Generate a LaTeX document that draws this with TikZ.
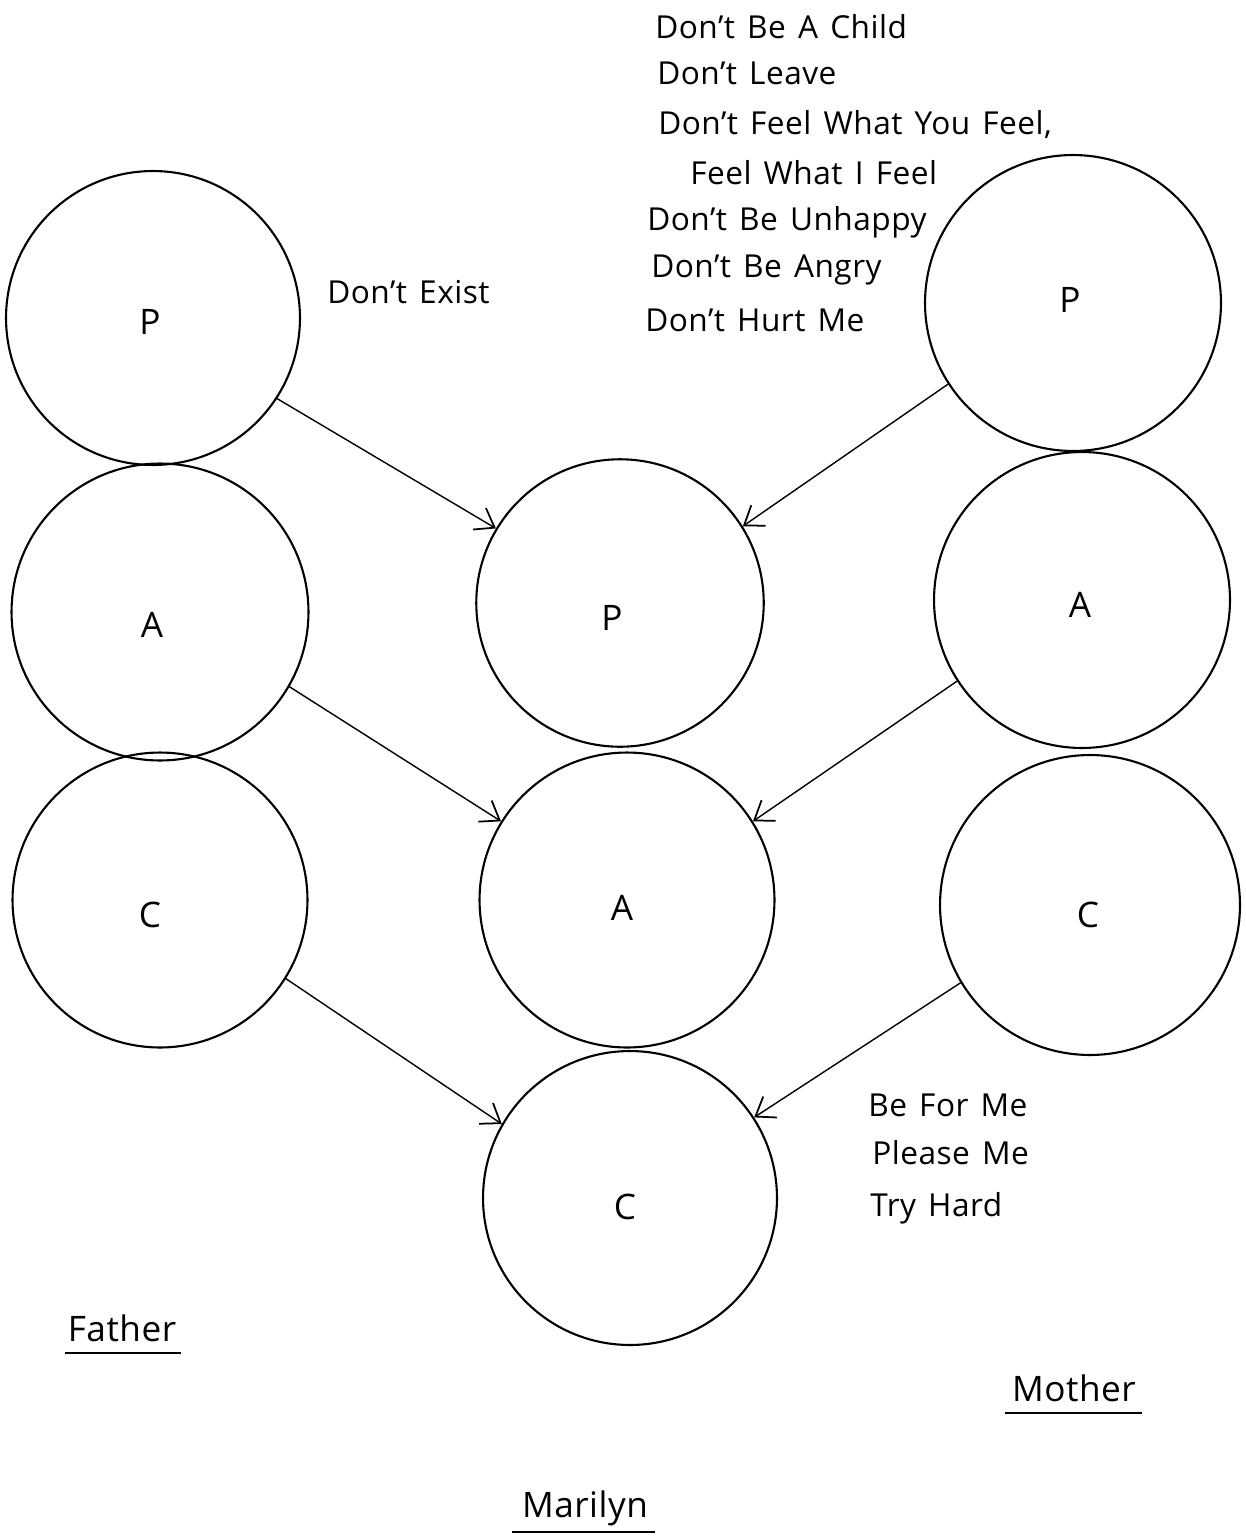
\documentclass[tikz,border=0pt]{standalone}
\usepackage{fontspec}
\setmainfont{Open Sans}
\newfontfamily\hand[LetterSpace=1.5,WordSpace=1.4]{Open Sans}
\usetikzlibrary{arrows.meta}
\begin{document}
\begin{tikzpicture}[x=0.02cm,y=-0.02cm,
  ego/.style={circle,draw,line width=1.2pt,minimum size=#1,inner sep=0pt},
  egolabel/.style={font=\fontsize{20}{24}\selectfont,inner sep=0pt},
  conn/.style={line width=0.8pt,-{Straight Barb[length=3.5mm,width=5mm,line width=1pt]}},
  msg/.style={anchor=west,inner sep=0pt,font=\hand\fontsize{18}{22}\selectfont},
  who/.style={inner sep=1pt,font=\hand\fontsize{20}{24}\selectfont}]
\useasboundingbox (0,0) rectangle (1246,1538);
% Father
\node[ego=5.88cm,label={[egolabel,shift={(-3,4)}]center:P}] (fp) at (153,318) {};
\node[ego=5.94cm,label={[egolabel,shift={(-8,13)}]center:A}] (fa) at (160,612) {};
\node[ego=5.9cm,label={[egolabel,shift={(-10,15)}]center:C}]  (fc) at (160,900) {};
% Marilyn
\node[ego=5.75cm,label={[egolabel,shift={(-8,15)}]center:P}] (cp) at (620,603) {};
\node[ego=5.9cm,label={[egolabel,shift={(-5,8)}]center:A}]  (ca) at (627,900) {};
\node[ego=5.88cm,label={[egolabel,shift={(-5,9)}]center:C}] (cc) at (630,1198) {};
% Mother
\node[ego=5.92cm,label={[egolabel,shift={(-3,-3)}]center:P}] (mp) at (1073,303) {};
\node[ego=5.92cm,label={[egolabel,shift={(-2,5)}]center:A}] (ma) at (1082,600) {};
\node[ego=6.0cm,label={[egolabel,shift={(-2,10)}]center:C}]  (mc) at (1090,905) {};
% connectors
\draw[conn] (fp.-33) -- (cp.149);
\draw[conn] (mp.-147) -- (cp.32);
\draw[conn] (fa.-30) -- (ca.148);
\draw[conn] (ma.-147) -- (ca.32);
\draw[conn] (fc.-32) -- (cc.150);
\draw[conn] (mc.-149) -- (cc.33);
% messages
\node[msg] (t0) at (327,292) {Don’t Exist};
\node[msg] (t1) at (655,27) {Don’t Be A Child};
\node[msg] (t2) at (657,73) {Don’t Leave};
\node[msg] (t3) at (658,125) {Don’t Feel What You Feel,};
\node[msg] (t4) at (690,173) {Feel What I Feel};
\node[msg] (t5) at (647,222) {Don’t Be Unhappy};
\node[msg] (t6) at (651,270) {Don’t Be Angry};
\node[msg] (t7) at (645,320) {Don’t Hurt Me};
\node[msg] (b1) at (868,1105) {Be For Me};
\node[msg] (b2) at (872,1153) {Please Me};
\node[msg] (b3) at (870,1208) {Try Hard};
% names
\node[who] (father) at (122,1328) {Father};
\draw[line width=1pt] (65,1353) -- (181,1353);
\node[who] (mother) at (1074,1388) {Mother};
\draw[line width=1pt] (1005,1413) -- (1142,1413);
\node[who] (marilyn) at (585,1508) {Marilyn};
\draw[line width=1pt] (512,1532) -- (655,1532);
\end{tikzpicture}
\end{document}
